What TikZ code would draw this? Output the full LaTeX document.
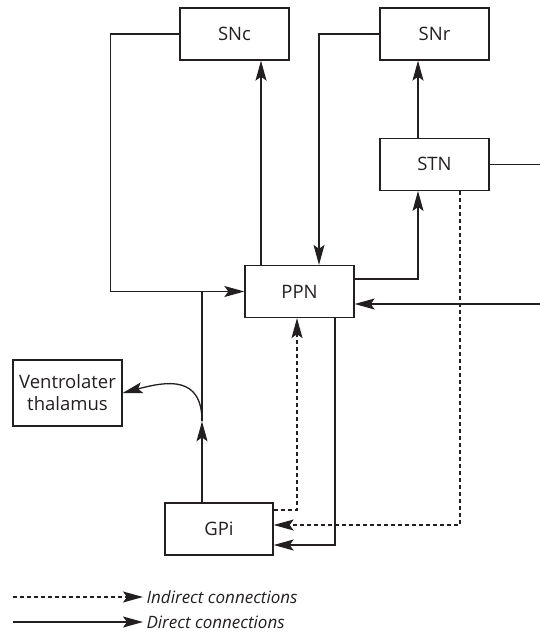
\documentclass[tikz,border=0pt]{standalone}
\usepackage{fontspec}
\setmainfont{Open Sans}
\usetikzlibrary{arrows.meta,positioning}
\definecolor{ink}{RGB}{35,31,32}

\begin{document}
\begin{tikzpicture}[
    x=1pt, y=-1pt,
    every node/.style={font=\fontsize{18.5}{22}\selectfont, text=ink},
    box/.style={draw=ink, line width=1.3pt, minimum width=109pt, minimum height=52pt, inner sep=2pt},
    link/.style={draw=ink, line width=1.3pt},
    direct/.style={link, -{Stealth[length=20pt, width=11pt, inset=4pt]}},
    indirect/.style={direct, dash pattern=on 4pt off 3pt},
    legend/.style={anchor=west, font=\fontsize{17}{20}\selectfont\itshape}
]
\useasboundingbox (0,0) rectangle (540,632);
\node[box] (snc) at (234.5,34) {SNc};
\node[box] (snr) at (434.5,34) {SNr};
\node[box, below=77pt of snr] (stn) {STN};
\node[box] (ppn) at (299.5,291.5) {PPN};
\node[box, minimum height=66pt, align=center] (thal) at (67.5,393) {Ventrolater\\thalamus};
\node[box, minimum width=108pt] (gpi) at (219,529) {GPi};
\node[legend] (indtext) at (143,597) {Indirect connections};
\node[legend] (dirtext) at (143,622) {Direct connections};

\coordinate (rim) at (540,0);
\coordinate (ppnA) at ([xshift=-38.5pt]ppn.north);
\coordinate (ppnB) at ([xshift=19.5pt]ppn.north);
\coordinate (ppnC) at ([yshift=12.5pt]ppn.east);
\coordinate (ppnD) at ([yshift=-12.5pt]ppn.east);
\coordinate (ppnE) at ([xshift=-2.5pt]ppn.south);
\coordinate (ppnF) at ([xshift=35.5pt]ppn.south);
\coordinate (stnA) at ([xshift=-16.5pt]stn.south);
\coordinate (stnB) at ([xshift=25.5pt]stn.south);
\coordinate (stnN) at ([xshift=-16.5pt]stn.north);
\coordinate (gpiN) at ([xshift=-17pt]gpi.north);
\coordinate (gpiA) at ([yshift=19pt]gpi.east);
\coordinate (gpiB) at ([yshift=4pt]gpi.east);
\coordinate (gpiC) at ([yshift=-16pt]gpi.east);
\coordinate (fork) at ([yshift=81pt]gpiN);
\coordinate (ind0) at (13,597);
\coordinate (dir0) at (13,622);

\draw[direct] (snc.west) -- ++(-69,0) |- (ppn.west);
\draw[direct] (ppnA) -- (ppnA |- snc.south);
\draw[direct] (snr.west) -| (ppnB);
\draw[direct] (ppnC) -| (stnA);
\draw[direct] (stnN) -- (stnN |- snr.south);
\draw[link] (stn.east) -- (stn.east -| rim);
\draw[direct] (ppnD -| rim) -- (ppnD);
\draw[link] (fork) -- (gpiN |- ppn.west);
\draw[direct] (gpiN) -- (fork);
\draw[direct] (fork) to[out=90, in=15, looseness=1.4] (thal.east);
\draw[indirect] (gpiA) -| (ppnE);
\draw[indirect] (stnB) |- (gpiB);
\draw[direct] (ppnF) |- (gpiC);
\draw[indirect] (ind0) -- (indtext.west);
\draw[direct] (dir0) -- (dirtext.west);
\end{tikzpicture}
\end{document}
